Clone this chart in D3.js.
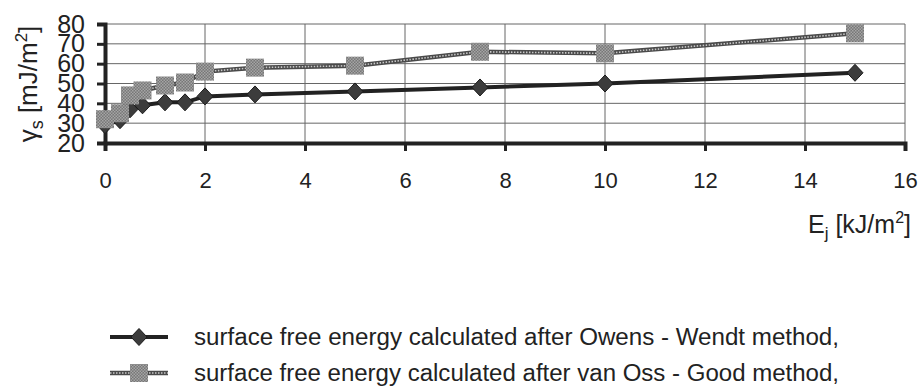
<!DOCTYPE html>
<html>
<head>
<meta charset="utf-8">
<script src="https://cdn.jsdelivr.net/npm/d3@7/dist/d3.min.js"></script>
<style>
  body { margin: 0; background: #fff; }
  text { font-family: "Liberation Sans", Arial, sans-serif; fill: #222; }
</style>
</head>
<body>
<div id="chart"></div>
<script>
// energy of irradiation, kJ/m2
var energy = [0, 0.3, 0.5, 0.75, 1.2, 1.6, 2, 3, 5, 7.5, 10, 15];
// surface free energy, mJ/m2
var owensWendt = [29, 31.5, 37, 39, 40.5, 40.5, 43.5, 44.5, 46, 48, 50, 55.4];
var vanOssGood = [32, 35, 44, 46.5, 49, 50.5, 56, 58, 59, 66, 65.2, 75.3];

var xTicks = [0, 2, 4, 6, 8, 10, 12, 14, 16];
var yTicks = [20, 30, 40, 50, 60, 70, 80];
var seriesNames = [
    'surface free energy calculated after Owens - Wendt method,',
    'surface free energy calculated after van Oss - Good method,'
];

var width = 919, height = 386;
var plot = { left: 105, right: 905, top: 24, bottom: 143 };

var svg = d3.select('#chart').append('svg').attr('width', width).attr('height', height);

// texture for the grey squares
var defs = svg.append('defs');
var pat = defs.append('pattern').attr('id', 'grain').attr('width', 3).attr('height', 3)
    .attr('patternUnits', 'userSpaceOnUse');
pat.append('rect').attr('width', 3).attr('height', 3).attr('fill', '#777');
pat.append('rect').attr('x', 0).attr('y', 0).attr('width', 1.5).attr('height', 1.5).attr('fill', '#a5a5a5');
pat.append('rect').attr('x', 1.5).attr('y', 1.5).attr('width', 1.5).attr('height', 1.5).attr('fill', '#a5a5a5');

var x = d3.scaleLinear().domain([0, 16]).range([plot.left, plot.right]);
var y = d3.scaleLinear().domain([20, 80]).range([plot.bottom, plot.top]);

// grid
svg.append('g').selectAll('line').data(yTicks).enter().append('line')
    .attr('x1', plot.left).attr('x2', plot.right)
    .attr('y1', function (d) { return y(d); }).attr('y2', function (d) { return y(d); })
    .attr('stroke', '#666').attr('stroke-width', 1);
svg.append('g').selectAll('line').data(xTicks).enter().append('line')
    .attr('x1', function (d) { return x(d); }).attr('x2', function (d) { return x(d); })
    .attr('y1', plot.top).attr('y2', plot.bottom)
    .attr('stroke', '#666').attr('stroke-width', 1);

// axes
var xAxis = d3.axisBottom(x).tickValues(xTicks).tickSize(8).tickPadding(21).tickFormat(d3.format('d'));
var gx = svg.append('g').attr('transform', 'translate(0,' + plot.bottom + ')').call(xAxis);
gx.select('.domain').attr('stroke', '#222').attr('stroke-width', 4);
gx.selectAll('.tick line').attr('stroke', '#222').attr('stroke-width', 3);
gx.selectAll('.tick text').style('font-size', '22px').attr('fill', '#222');

var yAxis = d3.axisLeft(y).tickValues(yTicks).tickSize(8).tickPadding(12);
var gy = svg.append('g').attr('transform', 'translate(' + plot.left + ',0)').call(yAxis);
gy.select('.domain').attr('stroke', '#222').attr('stroke-width', 4);
gy.selectAll('.tick line').attr('stroke', '#222').attr('stroke-width', 3);
gy.selectAll('.tick text').style('font-size', '25px').attr('fill', '#222');
gx.select('.domain').raise();

// series
var pts1 = energy.map(function (e, i) { return [e, owensWendt[i]]; });
var pts2 = energy.map(function (e, i) { return [e, vanOssGood[i]]; });
var line = d3.line().x(function (d) { return x(d[0]); }).y(function (d) { return y(d[1]); });

function dottedLine(g, d) {
    g.append('path').attr('d', d).attr('fill', 'none').attr('stroke', '#4a4a4a').attr('stroke-width', 4.5);
    g.append('path').attr('d', d).attr('fill', 'none').attr('stroke', '#c8c8c8')
        .attr('stroke-width', 1.6).attr('stroke-dasharray', '1.5,1.5');
}
function square(g, cx, cy) {
    g.append('rect').attr('x', cx - 9).attr('y', cy - 9).attr('width', 18).attr('height', 18)
        .attr('fill', 'url(#grain)');
}
function diamond(g, cx, cy) {
    g.append('path').attr('d', 'M' + cx + ',' + (cy - 8.5) + 'L' + (cx + 8) + ',' + cy +
        'L' + cx + ',' + (cy + 8.5) + 'L' + (cx - 8) + ',' + cy + 'Z')
        .attr('fill', '#3c3c3c').attr('stroke', '#1a1a1a').attr('stroke-width', 1);
}

var s1 = svg.append('g');
s1.append('path').attr('d', line(pts1)).attr('fill', 'none').attr('stroke', '#222').attr('stroke-width', 4);
pts1.forEach(function (p) { diamond(s1, x(p[0]), y(p[1])); });

var s2 = svg.append('g');
dottedLine(s2, line(pts2));
pts2.forEach(function (p) { square(s2, x(p[0]), y(p[1])); });

// axis titles
var yt = svg.append('text').attr('transform', 'translate(37,84) rotate(-90)')
    .attr('text-anchor', 'middle').style('font-size', '26px');
yt.append('tspan').text('\u03b3');
yt.append('tspan').text('s').style('font-size', '18px').attr('dy', 6);
yt.append('tspan').text(' [mJ/m').attr('dy', -6);
yt.append('tspan').text('2').style('font-size', '17px').attr('dy', -10);
yt.append('tspan').text(']').attr('dy', 10);

var xt = svg.append('text').attr('x', 911).attr('y', 233).attr('text-anchor', 'end').style('font-size', '25px');
xt.append('tspan').text('E');
xt.append('tspan').text('j').style('font-size', '17px').attr('dy', 6);
xt.append('tspan').text(' [kJ/m').attr('dy', -6);
xt.append('tspan').text('2').style('font-size', '16px').attr('dy', -10);
xt.append('tspan').text(']').attr('dy', 10);

// legend
var legY = [337, 373];
var lg = svg.append('g');
lg.append('line').attr('x1', 110).attr('x2', 168).attr('y1', legY[0]).attr('y2', legY[0])
    .attr('stroke', '#222').attr('stroke-width', 4);
diamond(lg, 139, legY[0]);
dottedLine(lg, 'M110,' + legY[1] + 'L168,' + legY[1]);
square(lg, 139, legY[1]);
lg.selectAll('text.leg').data(seriesNames).enter().append('text').attr('class', 'leg')
    .attr('x', 194).attr('y', function (d, i) { return legY[i] + 8; })
    .attr('textLength', 645).attr('lengthAdjust', 'spacingAndGlyphs')
    .style('font-size', '23.5px').text(function (d) { return d; });
</script>
</body>
</html>
